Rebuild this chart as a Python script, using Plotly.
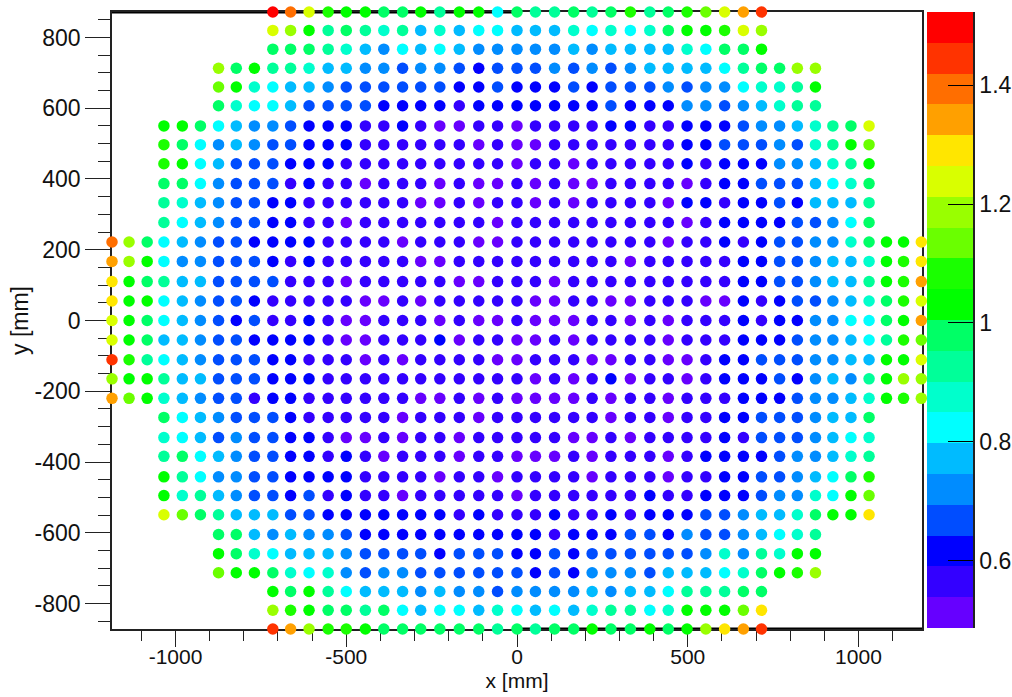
import plotly.graph_objects as go

# column centres (mm), k = -22 .. 22
col_x = [-1186,-1136,-1083,-1034,-980,-927,-874,-822,-769,-715,-663,-609,-553,-500,-444,
         -390,-335,-282,-226,-169,-112,-57,0,54,110,166,220,275,332,389,
         443,498,553,608,663,716,769,821,874,925,978,1031,1082,1132,1184]
# row centres (mm), top to bottom
row_y = [872,820,767,713,660,607,550,497,443,387,333,277,222,167,110,55,0,
         -55,-111,-165,-220,-274,-331,-384,-442,-495,-549,-605,-659,-713,-766,-819,-872]
# half width of each row, in columns from the centre
row_half = [13,13,13,16,16,16,19,19,19,19,19,19,22,22,22,22,22,22,22,22,22,19,19,19,19,19,19,16,16,16,13,13,13]

# colour band read for each dot (0 = lowest band of the palette, 19 = highest)
row_bands = [
 [19,17,14,11,10,10,9,9,10,8,10,10,6,9,8,8,9,8,9,11,8,9,11,12,14,16,18],
 [14,13,10,8,9,8,7,8,5,7,5,6,6,5,5,5,7,6,7,6,7,9,10,10,11,14,13],
 [9,9,9,8,7,5,4,6,5,6,5,4,4,4,4,4,5,4,5,5,5,5,7,6,9,9,10],
 [13,9,10,8,8,7,5,5,4,4,3,4,4,3,2,3,3,3,4,3,4,3,4,5,5,5,5,6,8,9,9,13,13],
 [12,10,7,6,5,5,4,3,3,3,3,3,3,2,2,3,2,2,2,3,2,3,3,3,4,3,4,4,6,7,7,8,10],
 [9,7,6,6,5,3,3,3,3,2,2,2,2,1,2,2,2,2,2,2,2,3,2,2,2,4,4,3,4,5,7,8,8],
 [10,10,9,6,5,4,4,3,2,2,2,1,1,2,1,0,0,1,1,0,1,1,1,1,2,2,1,1,2,2,2,3,4,4,5,7,8,9,14],
 [11,9,6,4,5,4,3,3,2,2,2,1,1,1,1,1,1,0,1,0,0,1,1,1,1,1,1,1,2,2,3,3,3,4,3,7,8,10,12],
 [11,10,6,5,3,3,3,2,2,2,1,1,1,1,1,1,1,1,1,0,1,1,0,1,1,1,1,1,2,1,2,2,2,4,4,5,7,8,10],
 [9,9,6,4,3,3,3,1,2,1,1,0,1,1,1,0,1,0,0,1,0,1,0,0,1,1,1,1,0,1,2,2,3,3,3,5,6,7,9],
 [8,7,5,4,3,3,2,2,1,1,1,1,1,1,0,0,1,0,1,1,0,1,0,1,1,1,1,0,2,2,1,2,2,3,2,5,5,5,8],
 [8,6,5,4,3,3,2,2,1,1,0,1,1,1,1,1,1,1,0,1,1,1,1,1,1,1,1,1,0,1,2,2,2,2,3,3,4,6,9],
 [17,13,9,6,5,4,3,3,2,2,2,2,1,1,1,1,0,1,1,1,0,0,1,1,1,1,1,1,1,1,0,1,1,2,1,2,3,3,4,4,7,9,10,10,15],
 [16,13,10,6,4,4,3,3,3,2,1,2,1,1,1,1,1,0,0,1,1,1,1,1,1,1,1,1,0,1,1,1,1,1,2,2,3,3,4,5,5,7,10,11,15],
 [15,10,9,8,5,5,3,3,3,3,1,1,1,0,1,1,1,1,1,0,0,1,1,1,0,1,1,1,1,1,1,1,1,1,2,2,3,3,4,5,5,8,10,11,16],
 [15,10,10,6,5,4,3,3,2,1,1,1,1,1,0,0,1,0,1,1,1,1,1,0,0,1,1,0,0,1,1,1,0,0,2,1,2,3,3,4,5,7,9,11,14],
 [14,10,9,6,5,4,3,2,3,1,1,2,1,0,0,1,1,1,0,1,0,0,1,0,0,0,1,1,0,1,0,1,1,1,2,1,2,2,4,4,6,6,9,10,16],
 [14,10,9,5,5,4,3,3,2,2,2,2,1,0,0,1,1,1,2,0,1,1,0,0,1,0,1,1,1,1,0,1,1,1,2,2,2,3,4,4,5,6,8,11,12],
 [18,11,8,6,5,4,3,3,3,2,2,1,1,1,0,1,0,1,1,1,1,0,0,1,1,1,0,0,1,1,0,0,1,2,2,3,3,3,4,4,5,5,10,10,14],
 [13,10,10,8,5,5,3,3,3,2,2,2,1,1,1,1,1,1,1,1,1,1,1,0,1,0,1,2,0,1,1,0,1,2,2,2,3,2,4,5,4,8,10,13,13],
 [16,12,10,7,5,4,3,3,1,2,2,1,1,1,1,1,1,0,0,1,0,1,0,0,0,0,1,0,1,1,0,1,1,1,2,2,2,3,4,4,5,7,10,11,13],
 [9,6,5,4,3,3,3,2,1,1,1,1,1,0,1,1,1,0,1,1,1,1,1,1,0,1,1,0,1,1,2,2,3,3,3,4,5,5,9],
 [7,6,5,3,4,3,3,2,2,1,0,0,1,0,1,1,0,1,1,1,1,1,0,0,1,0,1,1,1,1,2,1,3,3,3,4,5,6,7],
 [8,9,6,5,4,3,3,2,2,1,2,1,0,1,1,1,0,1,1,0,0,0,1,0,1,1,1,0,1,2,2,2,2,3,4,4,5,7,8],
 [10,8,6,4,4,3,3,2,2,2,2,1,1,1,1,0,1,1,0,1,1,1,1,0,1,1,1,0,1,1,2,2,3,3,4,5,6,9,11],
 [10,7,8,5,4,3,3,2,3,1,2,1,1,0,1,1,1,1,1,0,1,1,1,1,1,1,2,1,1,2,2,2,3,4,4,7,6,10,12],
 [14,12,9,8,5,5,5,3,3,2,2,2,2,2,2,2,1,2,1,1,1,2,1,1,2,1,2,2,2,3,3,4,5,5,7,9,10,10,15],
 [9,9,5,4,5,4,4,3,2,2,2,2,2,2,2,2,2,2,1,2,2,2,3,3,2,4,3,3,4,5,6,7,8],
 [10,9,7,6,5,5,5,4,3,3,3,3,2,3,3,3,2,2,3,2,3,3,3,3,3,3,4,7,4,8,7,10,10],
 [12,10,10,9,7,6,7,4,3,4,4,3,3,3,3,3,3,2,3,2,4,4,4,3,5,5,5,6,7,9,10,11,13],
 [10,9,10,8,6,5,5,5,4,5,4,4,3,4,4,4,4,5,4,5,5,6,8,8,8,9,9],
 [13,11,10,9,9,8,9,6,5,6,6,5,7,6,5,6,5,7,8,8,6,7,10,10,10,12,15],
 [18,16,13,11,11,10,9,9,9,9,9,9,8,9,8,9,9,10,9,9,10,9,10,13,15,16,18],
]
band_colors = ["#6600ff","#3300ff","#0000ff","#004dff","#008cff","#00bbff","#00ffff","#00ffcc","#00ff99","#00ff66",
               "#00ff00","#1aff00","#6aff00","#99ff00","#d9ff00","#ffe600","#ffa000","#ff6e00","#ff3300","#ff0000"]
z_min, z_max = 0.487, 1.523
x_ticks = [-1000,-500,0,500,1000]
x_tick_text = ["-1000","-500","0","500","1000"]
y_ticks = [-800,-600,-400,-200,0,200,400,600,800]
y_tick_text = ["-800","-600","-400","-200","0","200","400","600","800"]
z_ticks = [0.6,0.8,1.0,1.2,1.4]
z_tick_text = ["0.6","0.8","1","1.2","1.4"]

n = len(band_colors)
step = (z_max - z_min) / n
xs, ys, zs = [], [], []
for y, half, bands in zip(row_y, row_half, row_bands):
    assert len(bands) == 2 * half + 1, (y, len(bands))
    for k, b in zip(range(-half, half + 1), bands):
        xs.append(col_x[k + 22])
        ys.append(y)
        zs.append(z_min + (b + 0.5) * step)

scale = []
for i, c in enumerate(band_colors):
    scale += [[i / n, c], [(i + 1) / n, c]]
band_centres = [z_min + (i + 0.5) * step for i in range(n)]

W, H = 1012, 697
L, R, T, B = 112, 922, 12, 629   # main frame, pixels
CL, CR, CB = 927, 973, 628       # palette strip, pixels
font = "Liberation Sans, Arial, sans-serif"
ink = "#111"

fig = go.Figure()
fig.add_trace(go.Scatter(
    x=xs, y=ys, mode="markers", cliponaxis=False, showlegend=False,
    marker=dict(size=11.5, color=zs, cmin=z_min, cmax=z_max, colorscale=scale, showscale=False),
))
fig.add_trace(go.Heatmap(
    x=[0], y=band_centres, z=[[v] for v in band_centres], xaxis="x2", yaxis="y2",
    zmin=z_min, zmax=z_max, colorscale=scale, showscale=False, hoverinfo="skip",
))

total_w, total_h = CR - L, B - T
tick_line = dict(ticks="outside", tickcolor="#222", tickwidth=1)
axis_common = dict(automargin=False, showgrid=False, zeroline=False, showline=True, mirror=True, linecolor="#222", linewidth=1.5,
                   ticks="outside", tickcolor="#222", tickwidth=1, layer="below traces")
fig.update_layout(
    width=W, height=H, autosize=False, showlegend=False,
    margin=dict(l=L, r=W - CR, t=T, b=H - B, pad=0),
    paper_bgcolor="white", plot_bgcolor="white",
    xaxis=dict(domain=[0, (R - L) / total_w], range=[-1186, 1186], tickmode="array",
               tickvals=x_ticks, ticktext=x_tick_text, ticklen=16, ticklabelstandoff=-8,
               tickfont=dict(family=font, size=21, color=ink),
               minor=dict(dtick=100, ticklen=10, **tick_line),
               title=dict(text="x [mm]", font=dict(family=font, size=21, color=ink), standoff=6), **axis_common),
    yaxis=dict(range=[-872, 872], tickmode="array",
               tickvals=y_ticks, ticktext=y_tick_text, ticklen=25,
               tickfont=dict(family=font, size=23, color=ink),
               minor=dict(dtick=50, ticklen=12, **tick_line),
               title=dict(text="y [mm]", font=dict(family=font, size=23, color=ink), standoff=0), **axis_common),
    xaxis2=dict(domain=[(CL - L) / total_w, 1], anchor="y2", visible=False, range=[-0.5, 0.5], automargin=False),
    yaxis2=dict(domain=[(B - CB) / total_h, 1], anchor="x2", side="right", range=[z_min, z_max], automargin=False,
                showgrid=False, zeroline=False, showline=True, linecolor="#222", linewidth=1.5,
                tickmode="array", tickvals=z_ticks, ticktext=z_tick_text,
                ticks="inside", ticklen=25, tickwidth=1, tickcolor="black",
                tickfont=dict(family=font, size=23, color=ink)),
    shapes=[
        dict(type="line", layer="below", xref="x", yref="paper", x0=-1186, x1=0, y0=1, y1=1, line=dict(color="black", width=3)),
        dict(type="line", layer="below", xref="x", yref="paper", x0=0, x1=1186, y0=0, y1=0, line=dict(color="black", width=3)),
    ],
)
fig.write_html("out.html", config={"displayModeBar": False},
               post_script="document.body.style.margin='0';document.body.style.overflow='hidden';")
